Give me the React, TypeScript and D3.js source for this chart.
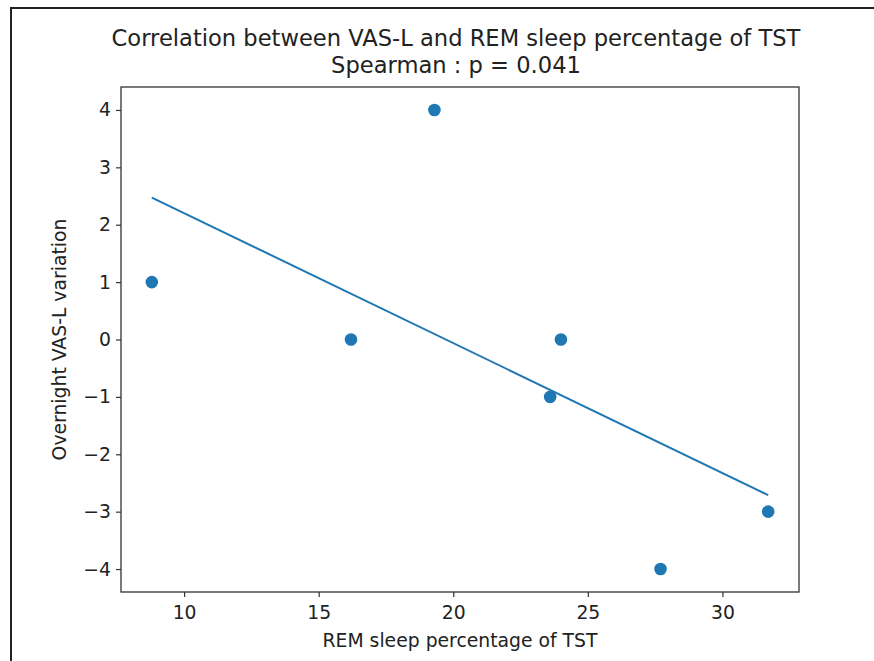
import { useEffect, useRef } from "react";
import * as d3 from "d3";

// REM sleep percentage of TST (x) vs overnight VAS-L variation (y)
const remPercent = [8.8, 16.2, 19.3, 23.6, 24.0, 27.7, 31.7];
const vasVariation = [1, 0, 4, -1, 0, -4, -3];

const xTicks = [10, 15, 20, 25, 30];
const yTicks = [-4, -3, -2, -1, 0, 1, 2, 3, 4];

const titleLines = [
  "Correlation between VAS-L and REM sleep percentage of TST",
  "Spearman : p = 0.041",
];
const xLabel = "REM sleep percentage of TST";
const yLabel = "Overnight VAS-L variation";

const App = () => {
  const svgRef = useRef(null);

  useEffect(() => {
    document.body.style.margin = "0";
    const svg = d3.select(svgRef.current);
    svg.selectAll("*").remove();

    const width = 874;
    const height = 661;
    const margin = { top: 87, right: 75, bottom: 69, left: 121 };
    const font = "DejaVu Sans, sans-serif";
    const blue = "#1f77b4";
    const labelSize = "18.8px";

    svg.attr("width", width).attr("height", height).style("display", "block");
    svg.append("rect").attr("width", width).attr("height", height).attr("fill", "white");

    // outer frame of the screenshot
    svg
      .append("path")
      .attr("d", `M11,${height} V8 H${width}`)
      .attr("fill", "none")
      .attr("stroke", "#222")
      .attr("stroke-width", 2);

    // matplotlib-like 5% margins
    const [xmin, xmax] = d3.extent(remPercent) as [number, number];
    const [ymin, ymax] = d3.extent(vasVariation) as [number, number];
    const xPad = (xmax - xmin) * 0.05;
    const yPad = (ymax - ymin) * 0.05;

    const xScale = d3
      .scaleLinear()
      .domain([xmin - xPad, xmax + xPad])
      .range([margin.left, width - margin.right]);
    const yScale = d3
      .scaleLinear()
      .domain([ymin - yPad, ymax + yPad])
      .range([height - margin.bottom, margin.top]);

    const fmt = (d: number) => (d < 0 ? `\u2212${Math.abs(d)}` : `${d}`);

    const xAxis = svg
      .append("g")
      .attr("transform", `translate(0, ${height - margin.bottom})`)
      .call(
        d3
          .axisBottom(xScale)
          .tickValues(xTicks)
          .tickSize(5)
          .tickPadding(9)
          .tickFormat((d) => fmt(d as number)) as any
      );
    const yAxis = svg
      .append("g")
      .attr("transform", `translate(${margin.left}, 0)`)
      .call(
        d3
          .axisLeft(yScale)
          .tickValues(yTicks)
          .tickSize(5)
          .tickPadding(5)
          .tickFormat((d) => fmt(d as number)) as any
      );

    [xAxis, yAxis].forEach((g) => {
      g.select(".domain").remove();
      g.selectAll(".tick line").attr("stroke", "#333").attr("stroke-width", 1.2);
      g.selectAll(".tick text")
        .attr("fill", "#222")
        .attr("font-family", font)
        .attr("font-size", labelSize);
    });

    // regression line (least squares)
    const mx = d3.mean(remPercent) as number;
    const my = d3.mean(vasVariation) as number;
    const sxy = d3.sum(remPercent, (x, i) => (x - mx) * (vasVariation[i] - my));
    const sxx = d3.sum(remPercent, (x) => (x - mx) ** 2);
    const slope = sxy / sxx;
    const intercept = my - slope * mx;
    const fit = [xmin, xmax].map((x) => [x, intercept + slope * x]);

    svg
      .append("path")
      .datum(fit)
      .attr(
        "d",
        d3
          .line()
          .x((d) => xScale(d[0]))
          .y((d) => yScale(d[1])) as any
      )
      .attr("fill", "none")
      .attr("stroke", blue)
      .attr("stroke-width", 2);

    svg
      .selectAll(".dot")
      .data(remPercent)
      .enter()
      .append("circle")
      .attr("class", "dot")
      .attr("cx", (d) => xScale(d))
      .attr("cy", (d, i) => yScale(vasVariation[i]))
      .attr("r", 6.3)
      .attr("fill", blue);

    // axes frame
    svg
      .append("rect")
      .attr("x", margin.left)
      .attr("y", margin.top)
      .attr("width", width - margin.left - margin.right)
      .attr("height", height - margin.top - margin.bottom)
      .attr("fill", "none")
      .attr("stroke", "#333")
      .attr("stroke-width", 1.3);

    const cx = (margin.left + width - margin.right) / 2;

    svg
      .selectAll(".title")
      .data(titleLines)
      .enter()
      .append("text")
      .attr("class", "title")
      .attr("x", cx - 4)
      .attr("y", (d, i) => 46 + i * 27)
      .attr("text-anchor", "middle")
      .attr("font-family", font)
      .attr("font-size", "22.6px")
      .attr("fill", "#222")
      .text((d) => d);

    svg
      .append("text")
      .attr("x", cx)
      .attr("y", 647)
      .attr("text-anchor", "middle")
      .attr("font-family", font)
      .attr("font-size", labelSize)
      .attr("fill", "#222")
      .text(xLabel);

    svg
      .append("text")
      .attr("transform", `translate(66, ${(margin.top + height - margin.bottom) / 2}) rotate(-90)`)
      .attr("text-anchor", "middle")
      .attr("font-family", font)
      .attr("font-size", labelSize)
      .attr("fill", "#222")
      .text(yLabel);
  }, []);

  return <svg ref={svgRef}></svg>;
};

export default App;
